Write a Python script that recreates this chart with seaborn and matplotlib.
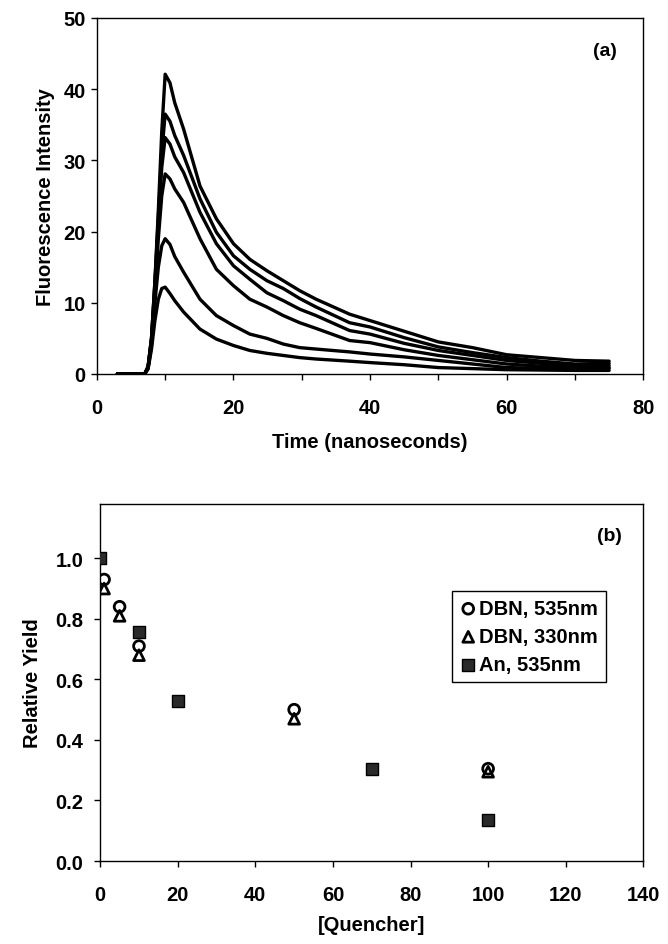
import matplotlib
matplotlib.use("Agg")
import matplotlib.pyplot as plt
import seaborn as sns
import pandas as pd
from matplotlib.ticker import MultipleLocator, FormatStrFormatter

# ---------------- data: panel (a) ----------------
t_ns = [3, 7, 7.5, 8, 8.5, 9, 9.5, 10, 10.7, 11.4, 12.7, 15.1, 17.5, 20, 22.4, 24.9,
        27.3, 29.7, 32.1, 37, 40, 45, 50, 55, 60, 65, 70, 75]
intensity_1 = [0, 0, 1.0, 5, 13, 23, 34, 42.1, 40.9, 38.1, 34.4, 26.4, 21.8, 18.3, 16.1, 14.5,
               13.1, 11.7, 10.5, 8.4, 7.5, 6.0, 4.5, 3.7, 2.7, 2.3, 1.9, 1.8]
intensity_2 = [0, 0, 1.0, 5, 13, 22, 31, 36.5, 35.5, 33.5, 30.7, 24.6, 19.9, 16.6, 14.7, 13.1,
               12.0, 10.6, 9.4, 7.2, 6.6, 5.1, 3.8, 3.0, 2.3, 1.8, 1.4, 1.5]
intensity_3 = [0, 0, 1.0, 5, 12.5, 21, 29, 33.2, 32.3, 30.5, 28.3, 22.7, 18.3, 15.2, 13.3, 11.4,
               10.3, 9.1, 8.2, 6.1, 5.6, 4.3, 3.3, 2.6, 1.9, 1.5, 1.2, 1.2]
intensity_4 = [0, 0, 1.0, 4.5, 11.5, 19, 25, 28.1, 27.4, 26.0, 24.1, 19.0, 14.7, 12.4, 10.5, 9.4,
               8.2, 7.2, 6.4, 4.7, 4.4, 3.4, 2.6, 2.0, 1.4, 1.1, 0.9, 0.9]
intensity_5 = [0, 0, 0.8, 4, 10, 15, 18, 19.0, 18.2, 16.5, 14.3, 10.5, 8.2, 6.8, 5.6, 5.0,
               4.2, 3.7, 3.5, 3.1, 2.8, 2.4, 1.9, 1.4, 0.9, 0.8, 0.7, 0.8]
intensity_6 = [0, 0, 0.7, 3.5, 7.5, 10.5, 12, 12.2, 11.3, 10.3, 8.7, 6.3, 4.9, 4.0, 3.3, 2.9,
               2.6, 2.3, 2.1, 1.8, 1.6, 1.3, 0.9, 0.75, 0.6, 0.55, 0.5, 0.5]
curves = [intensity_1, intensity_2, intensity_3, intensity_4, intensity_5, intensity_6]

# ---------------- data: panel (b) ----------------
dbn535_x = [1, 5, 10, 50, 100]
dbn535_y = [0.93, 0.84, 0.71, 0.50, 0.305]
dbn330_x = [1, 5, 10, 50, 100]
dbn330_y = [0.90, 0.81, 0.68, 0.47, 0.295]
an535_x = [0, 10, 20, 70, 100]
an535_y = [1.0, 0.755, 0.53, 0.305, 0.135]
legend_labels = ["DBN, 535nm", "DBN, 330nm", "An, 535nm"]

# ---------------- style ----------------
sns.set_theme(style="ticks")
plt.rcParams["font.family"] = ["Liberation Sans", "DejaVu Sans"]
plt.rcParams["font.weight"] = "bold"
plt.rcParams["axes.labelweight"] = "bold"
plt.rcParams["text.color"] = "black"
plt.rcParams["axes.labelcolor"] = "black"
plt.rcParams["xtick.color"] = "black"
plt.rcParams["ytick.color"] = "black"

fig = plt.figure(figsize=(6.68, 9.45), dpi=100)
fig.patch.set_facecolor("white")

ax1 = fig.add_axes([0.145, 0.6032, 0.818, 0.3767])
ax2 = fig.add_axes([0.150, 0.0878, 0.813, 0.378])

# panel (a)
rows = []
for i, c in enumerate(curves):
    for t, v in zip(t_ns, c):
        rows.append({"t": t, "I": v, "curve": i})
df_a = pd.DataFrame(rows)
sns.lineplot(data=df_a, x="t", y="I", units="curve", estimator=None,
             color="black", linewidth=2.4, ax=ax1, legend=False)
ax1.set_xlim(0, 80)
ax1.set_ylim(0, 50)
ax1.xaxis.set_major_locator(MultipleLocator(20))
ax1.xaxis.set_minor_locator(MultipleLocator(10))
ax1.yaxis.set_major_locator(MultipleLocator(10))
ax1.set_xlabel("Time (nanoseconds)", fontsize=14.5, fontweight="bold", labelpad=11,
               color="black")
ax1.set_ylabel("Fluorescence Intensity", fontsize=14.5, fontweight="bold", labelpad=6,
               color="black")
ax1.text(0.952, 0.91, "(a)", transform=ax1.transAxes, ha="right", va="center",
         fontsize=14, fontweight="bold", color="black")

# panel (b)
sns.scatterplot(x=dbn535_x, y=dbn535_y, marker="o", s=60, facecolor="none",
                edgecolor="black", linewidth=2.0, ax=ax2, label=legend_labels[0], zorder=3)
sns.scatterplot(x=dbn330_x, y=dbn330_y, marker="^", s=60, facecolor="none",
                edgecolor="black", linewidth=2.0, ax=ax2, label=legend_labels[1], zorder=3)
sns.scatterplot(x=an535_x, y=an535_y, marker="s", s=85, color="#2a2a2a",
                edgecolor="black", linewidth=1.0, ax=ax2, label=legend_labels[2], zorder=4)
ax2.set_xlim(0, 140)
ax2.set_ylim(0, 1.18)
ax2.xaxis.set_major_locator(MultipleLocator(20))
ax2.yaxis.set_major_locator(MultipleLocator(0.2))
ax2.yaxis.set_major_formatter(FormatStrFormatter("%.1f"))
ax2.set_xlabel("[Quencher]", fontsize=14.5, fontweight="bold", labelpad=8, color="black")
ax2.set_ylabel("Relative Yield", fontsize=14.5, fontweight="bold", labelpad=10,
               color="black")
ax2.text(0.961, 0.91, "(b)", transform=ax2.transAxes, ha="right", va="center",
         fontsize=14, fontweight="bold", color="black")
leg = ax2.legend(loc="upper left", bbox_to_anchor=(0.648, 0.756), borderaxespad=0,
                 fancybox=False, frameon=True, edgecolor="black", framealpha=1,
                 handletextpad=0.15, handlelength=0.8, borderpad=0.4, labelspacing=0.45,
                 prop={"size": 14.5, "weight": "bold"})
leg.get_frame().set_linewidth(1.0)
for txt in leg.get_texts():
    txt.set_color("black")

for ax in (ax1, ax2):
    for sp in ax.spines.values():
        sp.set_visible(True)
        sp.set_color("black")
        sp.set_linewidth(1.0)
    ax.tick_params(which="both", direction="out", length=4, width=1.0, color="black",
                   labelsize=14.5, labelcolor="black")
    for lab in ax.get_xticklabels() + ax.get_yticklabels():
        lab.set_fontweight("bold")
    ax.set_facecolor("white")

ax1.tick_params(axis="x", which="both", pad=13)
ax1.tick_params(axis="y", pad=4)
ax2.tick_params(axis="x", pad=13)
ax2.tick_params(axis="y", pad=8)

fig.savefig("out.png", dpi=100, facecolor="white")
